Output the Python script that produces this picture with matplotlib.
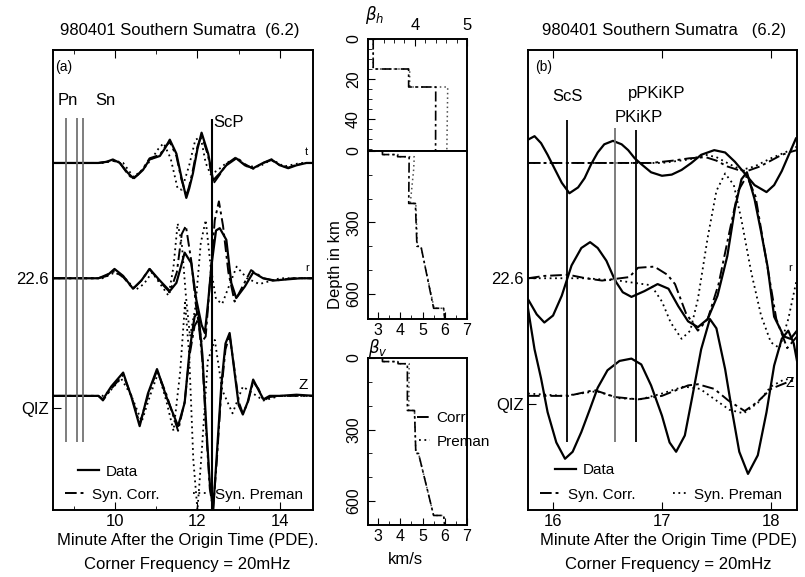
import numpy as np
import matplotlib
matplotlib.use("Agg")
import matplotlib.pyplot as plt
from matplotlib.lines import Line2D
from matplotlib.legend import Legend
from matplotlib.ticker import MultipleLocator

plt.rcParams['font.family'] = ['Liberation Sans', 'DejaVu Sans']
plt.rcParams['mathtext.fontset'] = 'dejavusans'

# ---- panel (a): 980401, minutes after origin, amplitude per trace ----
a_t_data_t = [8.5, 9.6, 9.8, 9.95, 10.12, 10.3, 10.44, 10.56, 10.68, 10.84, 11.09, 11.22, 11.33, 11.49, 11.61, 11.73, 11.8,
              11.89, 12.0, 12.1, 12.26, 12.38, 12.54, 12.7, 12.94, 13.15, 13.35, 13.59, 13.79, 14.0, 14.2, 14.4, 14.64, 14.84]
a_t_data = [0, 0, 0.01, 0.03, 0.0, -0.08, -0.13, -0.1, -0.06, 0.03, 0.06, 0.13, 0.2, 0.08, -0.12, -0.3, -0.22,
            -0.09, 0.12, 0.26, 0.08, -0.15, -0.09, -0.02, 0.04, -0.02, -0.045, 0.0, 0.03, -0.02, -0.045, -0.02, 0.0, 0.0]
a_t_corr = [0, 0, 0.01, 0.02, 0.0, -0.09, -0.14, -0.1, -0.05, 0.04, 0.07, 0.14, 0.18, 0.06, -0.14, -0.28, -0.2,
            -0.06, 0.14, 0.24, 0.06, -0.18, -0.1, -0.01, 0.05, -0.01, -0.05, 0.0, 0.025, -0.02, -0.04, -0.015, 0.0, 0.0]
a_t_prem_t = [8.5, 9.7, 10.0, 10.2, 10.45, 10.7, 10.9, 11.05, 11.18, 11.35, 11.52, 11.62, 11.8, 11.95, 12.08, 12.2,
              12.32, 12.5, 12.7, 12.95, 13.2, 13.5, 13.8, 14.1, 14.5, 14.84]
a_t_prem = [0, 0, 0.02, 0.0, -0.12, -0.05, 0.04, 0.12, 0.17, 0.04, -0.22, -0.23, -0.02, 0.2, 0.22, 0.0,
            -0.1, -0.06, 0.0, 0.04, -0.03, -0.03, 0.03, -0.03, 0.0, 0.0]

a_r_data_t = [8.5, 9.6, 9.8, 9.99, 10.2, 10.44, 10.64, 10.84, 11.09, 11.33, 11.49, 11.6, 11.69, 11.85, 11.97, 12.1,
              12.18, 12.26, 12.34, 12.45, 12.54, 12.7, 12.82, 12.94, 13.15, 13.35, 13.59, 13.83, 14.16, 14.5, 14.84]
a_r_data = [0, 0, 0.02, 0.08, 0.02, -0.09, -0.02, 0.08, -0.02, -0.11, -0.04, 0.1, 0.22, 0.13, -0.18, -0.4,
            -0.47, -0.2, 0.11, 0.41, 0.43, 0.33, -0.04, -0.17, -0.07, 0.05, 0.0, -0.02, -0.01, 0.0, 0.0]
a_r_corr_t = [8.5, 9.6, 9.99, 10.2, 10.44, 10.64, 10.84, 11.09, 11.33, 11.5, 11.62, 11.72, 11.85, 11.97, 12.1, 12.2,
              12.3, 12.42, 12.52, 12.62, 12.75, 12.9, 13.05, 13.3, 13.6, 13.9, 14.3, 14.84]
a_r_corr = [0, 0, 0.06, 0.01, -0.09, -0.02, 0.08, -0.03, -0.12, 0.05, 0.38, 0.45, 0.15, -0.25, -0.55, -0.5,
            -0.05, 0.5, 0.66, 0.45, 0.05, -0.2, -0.1, 0.07, 0.0, -0.02, 0.0, 0.0]
a_r_prem_t = [8.5, 9.7, 10.0, 10.25, 10.5, 10.7, 10.9, 11.1, 11.3, 11.42, 11.52, 11.62, 11.72, 11.82, 11.95, 12.08,
              12.2, 12.32, 12.45, 12.6, 12.75, 12.95, 13.2, 13.5, 14.0, 14.84]
a_r_prem = [0, 0, 0.05, 0.0, -0.1, -0.05, 0.05, -0.05, -0.15, 0.1, 0.47, 0.3, -0.15, -0.5, -0.25, 0.3,
            0.5, 0.1, -0.18, -0.22, -0.08, 0.1, 0.0, -0.05, 0.0, 0.0]

a_z_data_t = [8.5, 9.6, 9.71, 9.91, 10.2, 10.4, 10.6, 10.8, 11.02, 11.25, 11.53, 11.69, 11.81, 11.93, 12.02, 12.12,
              12.22, 12.3, 12.38, 12.47, 12.58, 12.68, 12.78, 12.9, 13.0, 13.1, 13.22, 13.35, 13.48, 13.6, 13.75,
              14.0, 14.4, 14.84]
a_z_data = [0, 0, -0.03, 0.08, 0.2, -0.01, -0.26, 0.02, 0.23, -0.01, -0.26, -0.06, 0.39, 0.68, 0.72, 0.35,
            -0.3, -0.75, -0.98, -0.5, 0.1, 0.45, 0.54, 0.2, -0.08, -0.16, -0.05, 0.14, 0.05, -0.03, 0.0,
            0.0, 0.01, 0.0]
a_z_corr = [0, 0, -0.04, 0.06, 0.18, 0.0, -0.24, 0.0, 0.22, 0.01, -0.3, -0.05, 0.35, 0.6, 0.66, 0.3,
            -0.35, -0.8, -0.97, -0.55, 0.05, 0.4, 0.52, 0.22, -0.05, -0.15, -0.06, 0.12, 0.06, -0.04, -0.01,
            0.0, 0.0, 0.0]
a_z_prem_t = [8.5, 9.7, 9.9, 10.15, 10.4, 10.65, 10.85, 11.05, 11.25, 11.42, 11.58, 11.7, 11.8, 11.9, 12.0, 12.1,
              12.25, 12.42, 12.6, 12.85, 13.1, 13.35, 13.6, 14.0, 14.84]
a_z_prem = [0, 0, 0.05, 0.15, 0.0, -0.22, 0.0, 0.2, -0.05, -0.3, 0.2, 0.8, 0.35, -0.55, -0.98, -0.5,
            0.3, 0.48, 0.05, -0.15, 0.08, 0.02, -0.04, 0.0, 0.0]

a_p_lines = [8.82, 9.08, 9.23]
a_scp = 12.35

# ---- panel (b) ----
b_t_data_t = [15.77, 15.83, 15.89, 15.95, 16.02, 16.08, 16.15, 16.23, 16.29, 16.35, 16.41, 16.47, 16.55, 16.63,
              16.69, 16.75, 16.81, 16.9, 17.0, 17.09, 17.18, 17.27, 17.36, 17.48, 17.58, 17.67, 17.76, 17.85,
              17.96, 18.03, 18.1, 18.16, 18.23]
b_t_data = [0.2, 0.23, 0.17, 0.07, -0.06, -0.17, -0.26, -0.21, -0.13, -0.01, 0.09, 0.16, 0.19, 0.16,
            0.11, 0.04, -0.01, -0.08, -0.11, -0.1, -0.06, 0.0, 0.07, 0.11, 0.09, 0.01, -0.09, -0.19,
            -0.25, -0.19, -0.07, 0.06, 0.21]
b_t_corr_t = [15.77, 16.2, 16.6, 16.9, 17.1, 17.25, 17.4, 17.5, 17.6, 17.7, 17.78, 17.9, 18.0, 18.1, 18.2, 18.24]
b_t_corr = [0.0, 0.0, 0.0, 0.0, 0.02, 0.04, 0.05, 0.02, -0.03, -0.06, -0.07, -0.03, 0.02, 0.07, 0.1, 0.11]
b_t_prem_t = [15.77, 16.5, 17.0, 17.25, 17.4, 17.5, 17.62, 17.73, 17.85, 18.0, 18.13, 18.24]
b_t_prem = [0.0, 0.0, 0.0, 0.03, 0.07, 0.05, -0.01, -0.06, -0.03, 0.04, 0.09, 0.14]

b_r_data_t = [15.77, 15.85, 15.92, 16.0, 16.08, 16.17, 16.26, 16.34, 16.41, 16.49, 16.57, 16.64, 16.72, 16.84,
              16.96, 17.06, 17.15, 17.24, 17.33, 17.42, 17.51, 17.6, 17.67, 17.73, 17.78, 17.85, 17.91, 17.97,
              18.03, 18.12, 18.18, 18.24]
b_r_data = [-0.18, -0.31, -0.38, -0.32, -0.15, 0.11, 0.26, 0.31, 0.26, 0.15, -0.02, -0.12, -0.16, -0.11,
            -0.05, -0.09, -0.24, -0.37, -0.42, -0.35, -0.15, 0.19, 0.6, 0.85, 0.91, 0.68, 0.4, 0.1,
            -0.33, -0.5, -0.52, -0.45]
b_r_corr_t = [15.77, 15.92, 16.14, 16.3, 16.45, 16.7, 16.78, 16.93, 17.05, 17.12, 17.22, 17.33, 17.42, 17.52,
              17.62, 17.7, 17.78, 17.86, 17.95, 18.05, 18.15, 18.24]
b_r_corr = [0.0, 0.02, 0.03, 0.0, -0.02, 0.01, 0.09, 0.1, 0.03, -0.05, -0.3, -0.45, -0.35, -0.05,
            0.4, 0.75, 0.88, 0.7, 0.2, -0.35, -0.6, -0.5]
b_r_prem_t = [15.77, 16.3, 16.6, 16.9, 17.0, 17.08, 17.18, 17.26, 17.33, 17.42, 17.5, 17.58, 17.66, 17.73,
              17.82, 17.91, 18.0, 18.08, 18.16, 18.24]
b_r_prem = [0.0, 0.0, -0.02, -0.06, -0.2, -0.38, -0.52, -0.45, -0.18, 0.35, 0.75, 0.9, 0.8, 0.5,
            0.05, -0.32, -0.55, -0.6, -0.35, 0.0]

b_z_data_t = [15.77, 15.83, 15.89, 15.95, 16.03, 16.11, 16.18, 16.26, 16.34, 16.41, 16.5, 16.61, 16.72, 16.81,
              16.9, 17.0, 17.07, 17.13, 17.21, 17.28, 17.36, 17.44, 17.5, 17.58, 17.64, 17.71, 17.79, 17.88,
              17.96, 18.03, 18.1, 18.16, 18.21, 18.24]
b_z_data = [0.75, 0.4, 0.15, -0.14, -0.4, -0.54, -0.48, -0.31, -0.11, 0.07, 0.22, 0.3, 0.32, 0.27,
            0.09, -0.17, -0.4, -0.48, -0.34, 0.0, 0.4, 0.66, 0.58, 0.23, -0.11, -0.48, -0.67, -0.51,
            -0.14, 0.26, 0.49, 0.56, 0.45, 0.3]
b_z_corr_t = [15.77, 16.14, 16.38, 16.57, 16.78, 17.0, 17.24, 17.33, 17.48, 17.61, 17.76, 17.88, 18.0, 18.16, 18.24]
b_z_corr = [0.0, 0.0, 0.05, -0.01, -0.03, 0.0, 0.09, 0.1, 0.06, -0.04, -0.13, -0.05, 0.06, 0.12, 0.14]
b_z_prem_t = [15.77, 16.1, 16.4, 16.6, 16.8, 17.0, 17.2, 17.35, 17.5, 17.62, 17.75, 17.88, 18.0, 18.12, 18.24]
b_z_prem = [0.02, 0.0, 0.04, -0.02, -0.03, 0.02, 0.08, 0.06, -0.04, -0.12, -0.15, -0.06, 0.08, 0.14, 0.15]

b_scs = 16.13
b_pkikp = 16.57
b_ppkikp = 16.76

trace_offsets = [0, -0.99, -2.0]

# ---- shear velocity models (km/s vs depth km) ----
vel_depth = [0, 15, 15, 24, 24, 220, 220, 400, 400, 660, 660, 705]
bh_corr = [3.2, 3.2, 3.88, 3.88, 4.40, 4.38, 4.68, 4.75, 4.93, 5.5, 5.95, 6.0]
bh_prem_depth = [0, 15, 15, 24, 24, 80, 220, 220, 400, 400, 660, 660, 705]
bh_prem = [3.2, 3.2, 3.9, 3.9, 4.63, 4.6, 4.45, 4.7, 4.77, 4.93, 5.52, 5.95, 6.0]
bv_corr = [3.2, 3.2, 3.9, 3.9, 4.32, 4.32, 4.64, 4.7, 4.82, 5.5, 5.95, 6.0]
bv_prem = [3.2, 3.2, 3.9, 3.9, 4.4, 4.38, 4.64, 4.7, 4.82, 5.5, 5.95, 6.0]

sty_data = dict(color='k', lw=1.6, ls='-')
sty_corr = dict(color='k', lw=1.4, ls=(0, (6, 2, 1.5, 2)))
sty_prem = dict(color='k', lw=1.3, ls=(0, (1, 2)))

W, H = 805, 577
fig = plt.figure(figsize=(8.05, 5.77), dpi=100)


def box(l, t, r, b):
    return [l / W, 1 - b / H, (r - l) / W, (b - t) / H]


def key(ax, sty, label, x, y, hl=1.4, fs=11):
    h = Line2D([], [], **sty)
    leg = Legend(ax, [h], [label], loc='center left', bbox_to_anchor=(x, y), frameon=False,
                 handlelength=hl, handletextpad=0.4, borderpad=0, borderaxespad=0, fontsize=fs)
    ax.add_artist(leg)


ax_a = fig.add_axes(box(53, 50, 313, 510))
ax_b = fig.add_axes(box(528, 50, 797, 510))
ax_h1 = fig.add_axes(box(368, 39, 467, 151))
ax_h2 = fig.add_axes(box(368, 151, 467, 319))
ax_v = fig.add_axes(box(368, 358, 467, 525))

traces_a = [(a_t_data_t, a_t_data, a_t_data_t, a_t_corr, a_t_prem_t, a_t_prem),
            (a_r_data_t, a_r_data, a_r_corr_t, a_r_corr, a_r_prem_t, a_r_prem),
            (a_z_data_t, a_z_data, a_z_data_t, a_z_corr, a_z_prem_t, a_z_prem)]
traces_b = [(b_t_data_t, b_t_data, b_t_corr_t, b_t_corr, b_t_prem_t, b_t_prem),
            (b_r_data_t, b_r_data, b_r_corr_t, b_r_corr, b_r_prem_t, b_r_prem),
            (b_z_data_t, b_z_data, b_z_corr_t, b_z_corr, b_z_prem_t, b_z_prem)]

for ax, traces in [(ax_a, traces_a), (ax_b, traces_b)]:
    for off, (td, yd, tc, yc, tp, yp) in zip(trace_offsets, traces):
        ax.plot(tp, np.array(yp) + off, **sty_prem)
        ax.plot(tc, np.array(yc) + off, **sty_corr)
        ax.plot(td, np.array(yd) + off, **sty_data)
    ax.set_ylim(-2.98, 0.97)
    ax.tick_params(which='both', direction='in', top=True, labelsize=12, pad=3)
    ax.tick_params(which='major', length=6)
    ax.tick_params(which='minor', length=3)
    for s in ax.spines.values():
        s.set_linewidth(1.4)

# phase markers
ax_a.vlines(a_p_lines, -2.4, 0.39, color='0.45', lw=1.3)
ax_a.vlines([a_scp], -2.98, 0.38, color='k', lw=1.5)
ax_a.text(8.62, 0.54, 'Pn', fontsize=12, va='center')
ax_a.text(9.52, 0.54, 'Sn', fontsize=12, va='center')
ax_a.text(12.38, 0.35, 'ScP', fontsize=12, va='center')
ax_a.text(14.61, 0.09, 't', fontsize=8, va='center')
ax_a.text(14.61, -0.9, 'r', fontsize=8, va='center')
ax_a.text(14.46, -1.91, 'Z', fontsize=11, va='center')

ax_b.vlines([b_scs, b_ppkikp], -2.4, [0.37, 0.28], color='k', lw=1.3)
ax_b.vlines([b_pkikp], -2.4, 0.30, color='0.45', lw=1.3)
ax_b.text(b_scs, 0.57, 'ScS', fontsize=12, va='center', ha='center')
ax_b.text(16.95, 0.6, 'pPKiKP', fontsize=12, va='center', ha='center')
ax_b.text(16.79, 0.39, 'PKiKP', fontsize=12, va='center', ha='center')
ax_b.text(18.16, -0.9, 'r', fontsize=8, va='center')
ax_b.text(18.13, -1.89, 'Z', fontsize=10, va='center')

ax_a.set_xlim(8.5, 14.8)
ax_a.set_xticks([10, 12, 14])
ax_a.xaxis.set_minor_locator(MultipleLocator(1))
ax_a.set_yticks([-0.99, -2.1])
ax_a.set_yticklabels(['22.6', 'QIZ'])
ax_a.text(0.01, 0.963, '(a)', transform=ax_a.transAxes, fontsize=10, va='center')

ax_b.set_xlim(15.77, 18.24)
ax_b.set_xticks([16, 17, 18])
ax_b.set_yticks([-0.99, -2.07])
ax_b.set_yticklabels(['22.6', 'QIZ'])
ax_b.text(0.025, 0.963, '(b)', transform=ax_b.transAxes, fontsize=10, va='center')

key(ax_a, sty_data, 'Data', 0.096, 0.083)
key(ax_a, sty_corr, 'Syn. Corr.', 0.046, 0.033)
key(ax_a, sty_prem, 'Syn. Preman', 0.54, 0.033, hl=1.0)
key(ax_b, sty_data, 'Data', 0.10, 0.087)
key(ax_b, sty_corr, 'Syn. Corr.', 0.045, 0.033)
key(ax_b, sty_prem, 'Syn. Preman', 0.539, 0.033, hl=1.0)

fig.text(180 / W, 1 - 30 / H, '980401 Southern Sumatra  (6.2)', ha='center', va='center', fontsize=12)
fig.text(664 / W, 1 - 30 / H, '980401 Southern Sumatra   (6.2)', ha='center', va='center', fontsize=12)
fig.text(188 / W, 1 - 540 / H, 'Minute After the Origin Time (PDE).', ha='center', va='center', fontsize=12)
fig.text(187 / W, 1 - 565 / H, 'Corner Frequency = 20mHz', ha='center', va='center', fontsize=12)
fig.text(668 / W, 1 - 540 / H, 'Minute After the Origin Time (PDE)', ha='center', va='center', fontsize=12)
fig.text(668 / W, 1 - 565 / H, 'Corner Frequency = 20mHz', ha='center', va='center', fontsize=12)

# ---- velocity panels ----
ax_h1.plot(bh_prem, bh_prem_depth, **dict(sty_prem, lw=1.1, color='0.3'))
ax_h1.plot(bh_corr, vel_depth, **dict(sty_corr, lw=1.2))
ax_h1.set_xlim(3.1, 5.0)
ax_h1.set_ylim(56, 0)
ax_h1.xaxis.tick_top()
ax_h1.set_xticks([4, 5])
ax_h1.xaxis.set_minor_locator(MultipleLocator(0.2))
ax_h1.set_yticks([0, 20, 40])
ax_h1.yaxis.set_minor_locator(MultipleLocator(5))
ax_h1.tick_params(axis='x', which='both', direction='in', bottom=False, top=True, labelsize=12, pad=4)

ax_h2.plot(bh_prem, bh_prem_depth, **dict(sty_prem, lw=1.1, color='0.3'))
ax_h2.plot(bh_corr, vel_depth, **dict(sty_corr, lw=1.2))
ax_h2.set_ylim(705, 0)

ax_v.plot(bv_prem, vel_depth, **dict(sty_prem, lw=1.1, color='0.3'))
ax_v.plot(bv_corr, vel_depth, **dict(sty_corr, lw=1.2))
ax_v.set_ylim(700, 0)

for ax in (ax_h2, ax_v):
    ax.set_xlim(2.55, 7.0)
    ax.set_xticks([3, 4, 5, 6, 7])
    ax.xaxis.set_minor_locator(MultipleLocator(0.5))
    ax.set_yticks([0, 300, 600])
    ax.yaxis.set_minor_locator(MultipleLocator(100))
    ax.tick_params(axis='x', which='both', direction='in', top=False, labelsize=11.5, pad=3)

for ax in (ax_h1, ax_h2, ax_v):
    ax.tick_params(axis='y', which='both', direction='in', labelsize=11.5, pad=5, labelrotation=90)
    ax.tick_params(which='major', length=5)
    ax.tick_params(which='minor', length=3)
    for lab in ax.get_yticklabels():
        lab.set_va('center')
    for s in ax.spines.values():
        s.set_linewidth(1.4)

key(ax_v, sty_corr, 'Corr.', 0.49, 0.64, hl=0.9, fs=11)
key(ax_v, sty_prem, 'Preman', 0.52, 0.50, hl=0.7, fs=11)

fig.text(375 / W, 1 - 15 / H, r'$\beta_h$', ha='center', va='center', fontsize=12)
fig.text(378 / W, 1 - 348 / H, r'$\beta_v$', ha='center', va='center', fontsize=12)
fig.text(335 / W, 1 - 265 / H, 'Depth in km', rotation=90, ha='center', va='center', fontsize=12)
fig.text(405 / W, 1 - 560 / H, 'km/s', ha='center', va='center', fontsize=12)

fig.savefig('out.png', dpi=100)
